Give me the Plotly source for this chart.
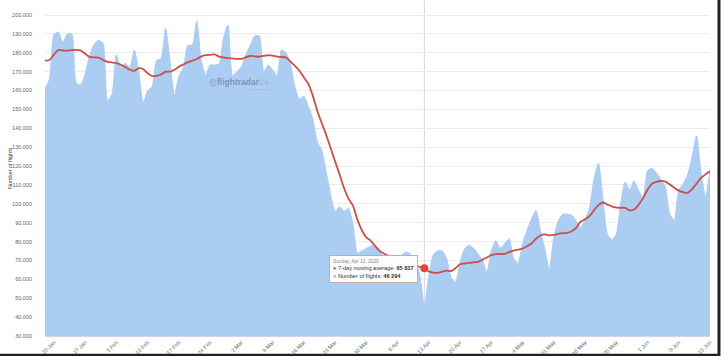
import pandas as pd
import plotly.graph_objects as go

start_date = "2020-01-18"
n_days = 150

flights = [
    161000, 166000, 189500, 191000, 185500, 190000, 190000, 164000, 163000, 169000,
    178500, 184500, 186500, 185000, 154500, 158000, 179000, 172000, 174500, 172000,
    181500, 170000, 153500, 160000, 162000, 176000, 177000, 193000, 176000, 157600,
    167500, 172000, 184000, 184000, 197000, 176000, 168000, 173500, 173500, 174000,
    188000, 194700, 168000, 170000, 172500, 179000, 184000, 189000, 189000, 170000,
    173500, 171000, 168000, 181500, 180000, 174000, 162000, 155500, 157000, 151500,
    145000, 133000, 128500, 117000, 105000, 96000, 98500, 96000, 97500, 89000,
    74000, 75000, 76500, 77500, 78000, 75000, 70000, 62000, 57500, 68000,
    73000, 74500, 73000, 70000, 62000, 46294, 62000, 73000, 75000, 75000,
    71000, 61000, 58500, 69000, 76000, 78000, 76500, 73500, 70000, 64000,
    75000, 80500, 76500, 79000, 81500, 71000, 68500, 79000, 86000, 92000,
    96500, 86000, 76000, 65000, 82500, 91000, 94500, 94500, 94000, 91000,
    87500, 91500, 98000, 113000, 121500, 103000, 84000, 81000, 84000, 100500,
    111500, 107500, 112000, 107000, 103500, 117500, 118800, 116300, 113000, 109000,
    94500, 91500, 107500, 110500, 115500, 125000, 136000, 116000, 104000, 118000,
]

moving_avg = [
    175800, 176200, 179000, 181500, 181200, 181100, 181400, 181500, 181200, 179500,
    177800, 177600, 177400, 176200, 175200, 174900, 174500, 173600, 172500, 171000,
    170400, 171800, 171300, 169200, 167700, 167800, 168500, 170000, 170000, 171000,
    172600, 173800, 174900, 175800, 176700, 178000, 178700, 178900, 179100, 178000,
    177500, 177200, 177000, 176800, 176800, 177600, 178300, 178100, 177900, 178300,
    178700, 178500, 178000, 177800, 177500, 175300, 173000, 170500, 167000, 163500,
    157300, 149300, 142800, 136500, 129500, 122500, 115600, 108400, 102800, 99000,
    91500, 86000, 82200, 80400, 77600, 75000, 73600, 72400, 71500, 70500,
    69500, 68800, 68000, 67300, 66600, 65837, 64200, 63600, 63500, 64100,
    64600, 64400, 66000, 68000, 68400, 68700, 69000, 69200, 70300, 71600,
    72800, 73400, 73400, 73500, 74400, 75300, 75800, 76300, 77500, 79000,
    81500, 83200, 83800, 83300, 83500, 84100, 84500, 84600, 85500, 87300,
    90500, 91800, 93500, 96500, 99300, 100700, 99600, 98600, 98000, 97900,
    97900, 96500, 97000, 99500, 103000, 107500, 110600, 111600, 112100, 111800,
    110200, 108500, 107000, 106200, 105900, 107800, 110800, 113700, 115600, 117200,
]

tick_start = "2020-01-20"
highlight_date = "2020-04-12"
tooltip_title = "Sunday, Apr 12, 2020"
tooltip_ma = "65 837"
tooltip_fl = "46 294"
y_min, y_max = 30000, 207950

dates = pd.date_range(start_date, periods=n_days, freq="D")

FONT = "Liberation Sans, Arial, sans-serif"
AREA = "#abcdf2"
RED = "#c8504b"

fig = go.Figure()
fig.add_trace(go.Scatter(
    x=dates, y=flights, mode="lines", line=dict(color=AREA, width=1, shape="spline", smoothing=0.6),
    fill="tozeroy", fillcolor=AREA, hoverinfo="skip", name="Number of flights"))
fig.add_trace(go.Scatter(
    x=dates, y=moving_avg, mode="lines", line=dict(color=RED, width=1.8, shape="spline", smoothing=0.8),
    hoverinfo="skip", name="7-day moving average"))

hi_idx = list(dates).index(pd.Timestamp(highlight_date))

# crosshair
fig.add_shape(type="line", xref="x", yref="paper", x0=highlight_date, x1=highlight_date,
              y0=0, y1=1, line=dict(color="#d8d8d8", width=1), layer="below")

fig.add_trace(go.Scatter(
    x=[dates[hi_idx]], y=[moving_avg[hi_idx]], mode="markers",
    marker=dict(color="#e0453f", size=8, line=dict(color="#e0453f", width=0)),
    hoverinfo="skip"))

# tooltip
tip = (f"<span style='font-size:4.8px;color:#888'>{tooltip_title}</span><br>"
       f"<span style='color:{RED}'>●</span> 7-day moving average: <b>{tooltip_ma}</b><br>"
       f"<span style='color:#7cb5ec'>●</span> Number of flights: <b>{tooltip_fl}</b>")
fig.add_annotation(x=highlight_date, y=moving_avg[hi_idx], xref="x", yref="y",
                   text=tip, showarrow=False, xanchor="right", yanchor="middle", xshift=-6, yshift=-1,
                   align="left", bgcolor="rgba(255,255,255,0.95)", bordercolor="#c4a9aa",
                   borderwidth=1, borderpad=3, font=dict(family=FONT, size=5.6, color="#333"))

# watermark
fig.add_annotation(x=0.292, y=0.756, xref="paper", yref="paper", showarrow=False,
                   xanchor="center", yanchor="middle",
                   text="<span style='color:rgba(95,115,150,0.65)'>◎</span><b><span style='color:rgba(95,115,150,0.65)'>flightradar</span><span style='color:rgba(150,170,200,0.5)'>24</span></b>",
                   font=dict(family=FONT, size=8.5))
fig.add_annotation(x=0.323, y=0.735, xref="paper", yref="paper", showarrow=False,
                   xanchor="center", yanchor="middle", text="LIVE AIR TRAFFIC",
                   font=dict(family=FONT, size=2.5, color="rgba(120,135,160,0.6)"))

# y-axis title
fig.add_annotation(x=-0.06, y=0.5, xref="paper", yref="paper", showarrow=False,
                   text="Number of flights", textangle=-90,
                   font=dict(family=FONT, size=5.5, color="#444"))

# screenshot frame (right and bottom)
fig.add_shape(type="line", xref="paper", yref="paper", x0=1.0135, x1=1.0135, y0=-0.06, y1=1.0,
              line=dict(color="#222", width=3))
fig.add_shape(type="line", xref="paper", yref="paper", x0=-0.07, x1=1.0135, y0=-0.0565, y1=-0.0565,
              line=dict(color="#222", width=2.5))

fig.update_layout(
    width=721, height=356,
    margin=dict(l=45, r=11, t=0, b=20),
    paper_bgcolor="white", plot_bgcolor="white",
    showlegend=False, separators=",.",
    font=dict(family=FONT, color="#666"),
    xaxis=dict(range=[dates[0], dates[-1]], tick0=tick_start, dtick=7 * 86400000,
               tickformat="%-d %b", tickangle=-45, tickfont=dict(size=5.5, color="#666"),
               showgrid=False, zeroline=False, showline=True, linecolor="#ccd6eb",
               ticks="", automargin=False),
    yaxis=dict(range=[y_min, y_max], dtick=10000, tick0=0, tickformat=",d",
               tickfont=dict(size=5.5, color="#666"), gridcolor="#ebebeb", gridwidth=1,
               zeroline=False, showline=False, ticks="", ticklabelstandoff=12,
               automargin=False),
)

fig.write_html("out.html", config={"displayModeBar": False},
               post_script="document.body.style.margin='0px';document.body.style.overflow='hidden';")
